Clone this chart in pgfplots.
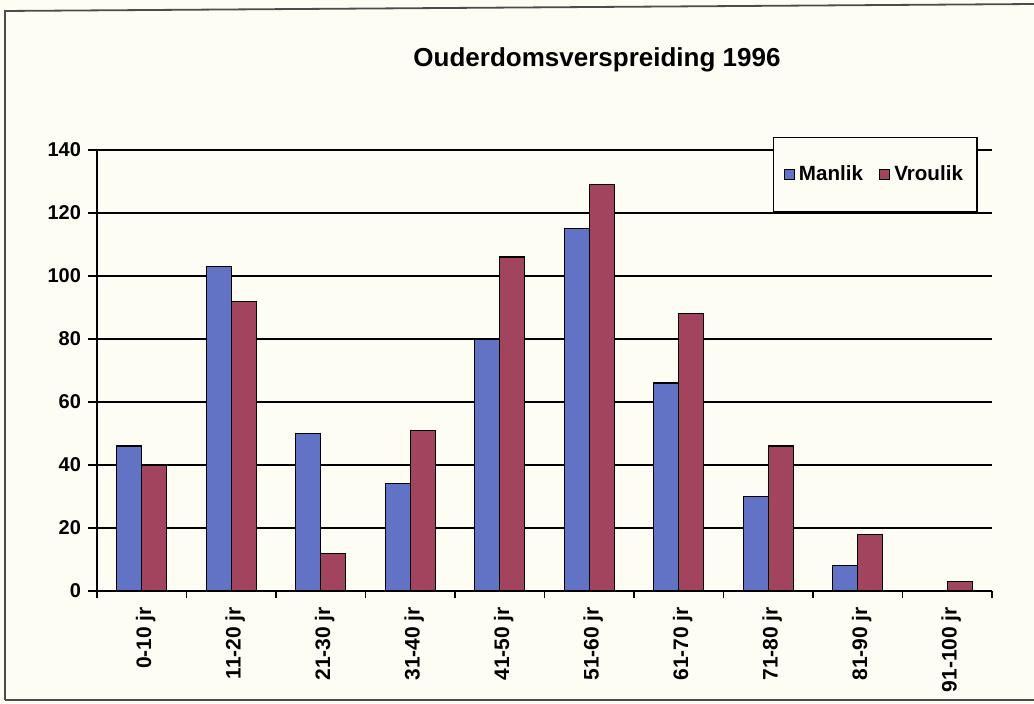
\documentclass[border=0pt]{standalone}
\usepackage{fontspec}
\setmainfont{Liberation Sans}
\usepackage{pgfplots}
\usepackage{pgfplotstable}
\pgfplotsset{compat=1.18}
\definecolor{manblue}{HTML}{6272C4}
\definecolor{vrored}{HTML}{A3445E}
\definecolor{bg}{HTML}{FEFDF4}
\pgfplotstableread{
x manlik vroulik
0 46 40
1 103 92
2 50 12
3 34 51
4 80 106
5 115 129
6 66 88
7 30 46
8 8 18
9 0 3
}\agedata
\begin{document}
\begin{tikzpicture}[x=1pt,y=1pt]
\fill[bg] (-48.5,-56.5) rectangle (468.5,295.5);
\useasboundingbox (-48.5,-56.5) rectangle (468.5,295.5);
\draw[line width=0.9pt, black!70] (-46,-54.5) -- (-46,290) -- (470,293.5);
\draw[line width=0.9pt, black!70] (-46,-54.5) -- (470,-54.5);
\begin{axis}[
  at={(0,0)}, anchor=south west,
  scale only axis, width=447.5pt, height=220.5pt,
  xmin=-0.5, xmax=9.5, ymin=0, ymax=140,
  axis lines*=left,
  axis line style={line width=0.8pt, black},
  tick align=outside,
  ytick={0,20,...,140},
  ymajorgrids,
  grid style={line width=0.8pt, black},
  major tick length=4.5pt,
  tick style={line width=0.8pt, black},
  yticklabel style={font=\bfseries\fontsize{10}{12}\selectfont},
  /pgf/number format/assume math mode=true,
  xtick={0,...,9},
  xticklabels={0-10 jr,11-20 jr,21-30 jr,31-40 jr,41-50 jr,51-60 jr,61-70 jr,71-80 jr,81-90 jr,91-100 jr},
  x tick style={draw=none},
  xticklabel style={rotate=90, anchor=east, font=\bfseries\fontsize{10.5}{12}\selectfont, yshift=-2pt},
  extra x ticks={-0.5,0.5,...,9.5},
  extra x tick labels={},
  extra x tick style={x tick style={draw=black, line width=0.8pt}, major tick length=3.5pt},
  ybar=0pt, bar width=12.5pt,
  legend columns=2,
  legend style={at={(0.984,1.0295)}, anchor=north east, draw=black, line width=0.7pt, fill=bg,
    font=\bfseries\fontsize{10.3}{12}\selectfont, inner xsep=5pt, inner ysep=12pt,
    /tikz/every even column/.append style={column sep=6pt}},
  legend image code/.code={\draw[#1, draw=black, line width=0.4pt] (0pt,-2.6pt) rectangle (5.2pt,2.6pt);},
]
\addplot[fill=manblue, draw=black, line width=0.6pt] table[x=x, y=manlik] {\agedata};
\addplot[fill=vrored, draw=black, line width=0.6pt] table[x=x, y=vroulik] {\agedata};
\legend{Manlik, Vroulik}
\end{axis}
\node[font=\bfseries\fontsize{13}{15}\selectfont] at (250,265.5) {Ouderdomsverspreiding 1996};
\end{tikzpicture}
\end{document}
